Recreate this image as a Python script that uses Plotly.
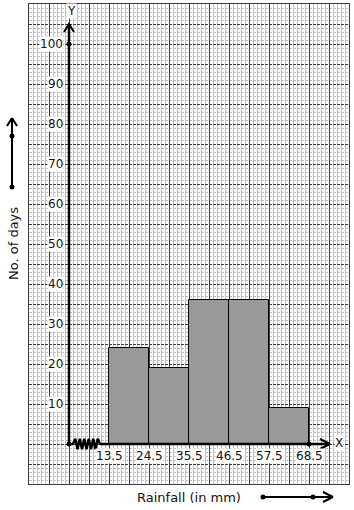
import plotly.graph_objects as go

# ---- data ----
class_edges = [13.5, 24.5, 35.5, 46.5, 57.5, 68.5]
frequencies = [24, 19, 36, 36, 9]
y_tick_values = [10, 20, 30, 40, 50, 60, 70, 80, 90, 100]
x_tick_labels = ["13.5", "24.5", "35.5", "46.5", "57.5", "68.5"]

# broken axis: the origin is drawn one class width before the first edge
CLASS_W = class_edges[1] - class_edges[0]
ORIGIN_X = class_edges[0] - CLASS_W
X_RANGE = [ORIGIN_X - 2 * CLASS_W / 2, ORIGIN_X + 14 * CLASS_W / 2]
Y_RANGE = [-10, 110]

mids = [(a + b) / 2 for a, b in zip(class_edges[:-1], class_edges[1:])]
widths = [b - a for a, b in zip(class_edges[:-1], class_edges[1:])]

W, H = 354, 510
ML, MR, MT, MB = 29, 5, 4, 26
PW, PH = W - ML - MR, H - MT - MB
PXX = (X_RANGE[1] - X_RANGE[0]) / PW   # data units per px (x)
PXY = (Y_RANGE[1] - Y_RANGE[0]) / PH   # data units per px (y)

FONT = "DejaVu Sans"
fig = go.Figure()

fig.add_trace(go.Bar(
    x=mids, y=frequencies, width=widths,
    marker=dict(color="#999999", line=dict(color="black", width=1)),
    hoverinfo="skip", showlegend=False,
))

# axis lines with open arrowheads
y_tip = 105
x_tip = ORIGIN_X + 261 * PXX
zig_start = ORIGIN_X + 4 * PXX
zig_end = ORIGIN_X + 31 * PXX
lw = 2.5

fig.add_trace(go.Scatter(x=[ORIGIN_X, ORIGIN_X], y=[0, y_tip], mode="lines",
                         line=dict(color="black", width=lw), hoverinfo="skip", showlegend=False))
fig.add_trace(go.Scatter(x=[ORIGIN_X - 5 * PXX, ORIGIN_X, ORIGIN_X + 5 * PXX],
                         y=[y_tip - 8 * PXY, y_tip, y_tip - 8 * PXY], mode="lines",
                         line=dict(color="black", width=2), hoverinfo="skip", showlegend=False))
fig.add_trace(go.Scatter(x=[ORIGIN_X, zig_start], y=[0, 0], mode="lines",
                         line=dict(color="black", width=lw), hoverinfo="skip", showlegend=False))
fig.add_trace(go.Scatter(x=[zig_end, x_tip], y=[0, 0], mode="lines",
                         line=dict(color="black", width=lw), hoverinfo="skip", showlegend=False))
fig.add_trace(go.Scatter(x=[x_tip - 10 * PXX, x_tip, x_tip - 10 * PXX],
                         y=[5 * PXY, 0, -5 * PXY], mode="lines",
                         line=dict(color="black", width=2), hoverinfo="skip", showlegend=False))
# zigzag (axis break)
n_seg = 12
zx = [zig_start + (zig_end - zig_start) * i / n_seg for i in range(n_seg + 1)]
zy = [0 if i in (0, n_seg) else (1.3 if i % 2 else -1.3) for i in range(n_seg + 1)]
fig.add_trace(go.Scatter(x=zx, y=zy, mode="lines", line=dict(color="black", width=2.5),
                         hoverinfo="skip", showlegend=False))
# dots
fig.add_trace(go.Scatter(x=[ORIGIN_X, ORIGIN_X, class_edges[-1]], y=[0, y_tick_values[-1], 0],
                         mode="markers", marker=dict(color="black", size=5),
                         hoverinfo="skip", showlegend=False))

annotations = []
for v in y_tick_values:
    annotations.append(dict(x=ORIGIN_X - 5 * PXX, y=v, text=str(v), showarrow=False,
                            xanchor="right", yanchor="middle", bgcolor="white", borderpad=0,
                            font=dict(family=FONT, size=12, color="#111")))
for e, t in zip(class_edges, x_tick_labels):
    annotations.append(dict(x=e, y=-12 * PXY, text=t, showarrow=False,
                            xanchor="center", yanchor="middle", bgcolor="white", borderpad=0,
                            font=dict(family=FONT, size=12, color="#111")))
annotations.append(dict(x=ORIGIN_X + 2 * PXX, y=108.2, text="Y", showarrow=False,
                        xanchor="center", yanchor="middle",
                        bgcolor="white", borderpad=0, font=dict(family=FONT, size=12, color="#111")))
annotations.append(dict(x=ORIGIN_X + 270 * PXX, y=0.3, text="X", showarrow=False,
                        xanchor="center", yanchor="middle",
                        bgcolor="white", borderpad=0, font=dict(family=FONT, size=12, color="#111")))


def px2paper(px, py):
    return (px - ML) / PW, (H - MB - py) / PH


bx, by = px2paper(189, 497)
annotations.append(dict(x=bx, y=by, xref="paper", yref="paper", text="Rainfall (in mm)",
                        xanchor="center", yanchor="middle",
                        showarrow=False, font=dict(family=FONT, size=13, color="#111")))
lx, ly = px2paper(13, 244)
annotations.append(dict(x=lx, y=ly, xref="paper", yref="paper", text="No. of days", textangle=-90,
                        xanchor="center", yanchor="middle",
                        showarrow=False, font=dict(family=FONT, size=13, color="#111")))

shapes = []


def pline(p1, p2, w=2):
    a = px2paper(*p1)
    b = px2paper(*p2)
    shapes.append(dict(type="line", xref="paper", yref="paper", x0=a[0], y0=a[1], x1=b[0], y1=b[1],
                       line=dict(color="black", width=w)))


def pdot(p, r=2.5):
    a = px2paper(*p)
    shapes.append(dict(type="circle", xref="paper", yref="paper", xsizemode="pixel", ysizemode="pixel",
                       xanchor=a[0], yanchor=a[1], x0=-r, x1=r, y0=-r, y1=r,
                       fillcolor="black", line=dict(color="black", width=0)))


# bottom decorative arrow
pline((263, 497), (333, 497))
pline((323, 492), (333, 497))
pline((323, 502), (333, 497))
pdot((263, 497))
pdot((313, 497))
# left decorative arrow
pline((12, 187), (12, 118))
pline((7, 126), (12, 118))
pline((17, 126), (12, 118))
pdot((12, 187))
pdot((12, 136))

fig.update_layout(
    width=W, height=H,
    margin=dict(l=ML, r=MR, t=MT, b=MB, pad=0),
    paper_bgcolor="white", plot_bgcolor="white",
    showlegend=False, bargap=0,
    annotations=annotations, shapes=shapes,
    xaxis=dict(range=X_RANGE, tick0=ORIGIN_X, dtick=CLASS_W / 2, showticklabels=False, ticks="",
               showgrid=True, gridcolor="#3c3c3c", gridwidth=1, zeroline=False,
               showline=True, linecolor="#3c3c3c", linewidth=1, mirror=True,
               minor=dict(tick0=ORIGIN_X, dtick=CLASS_W / 10, showgrid=True, gridcolor="#c0c0c0", gridwidth=1),
               fixedrange=True),
    yaxis=dict(range=Y_RANGE, tick0=0, dtick=5, showticklabels=False, ticks="",
               showgrid=True, gridcolor="#3c3c3c", gridwidth=1, griddash="3px,1px", zeroline=False,
               showline=True, linecolor="#3c3c3c", linewidth=1, mirror=True,
               minor=dict(tick0=0, dtick=1, showgrid=True, gridcolor="#c0c0c0", gridwidth=1),
               fixedrange=True),
)

fig.write_html("out.html")
